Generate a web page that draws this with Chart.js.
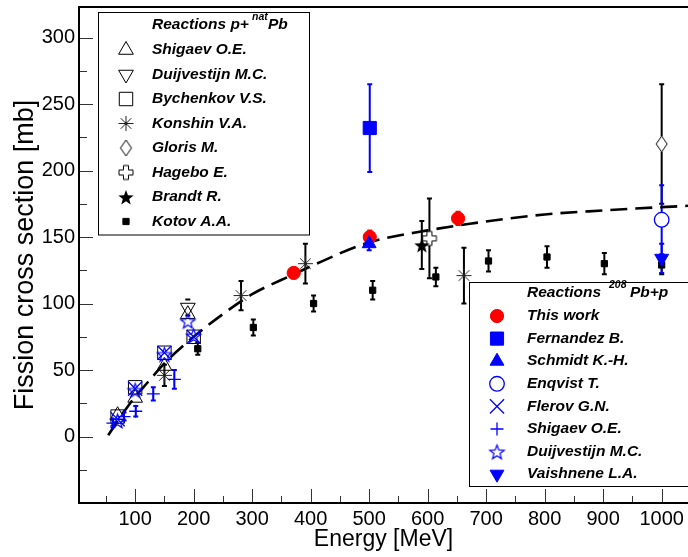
<!DOCTYPE html>
<html>
<head>
<meta charset="utf-8">
<script src="https://cdn.jsdelivr.net/npm/chart.js"></script>
<style>
  html, body { margin: 0; padding: 0; background: #fff; }
  #wrap { width: 688px; height: 557px; }
</style>
</head>
<body>
<div id="wrap"><canvas id="chart" width="688" height="557"></canvas></div>
<script>
// axis ticks
const xTicks = [100, 200, 300, 400, 500, 600, 700, 800, 900, 1000];
const yTicks = [0, 50, 100, 150, 200, 250, 300];

// dashed systematics curve
const curveE = [54, 80, 100, 122, 150, 200, 253, 300, 371, 400, 500, 600, 672, 800, 900, 1000, 1045];
const curveY = [1, 18, 30, 41, 55, 75, 93, 107, 122, 128, 146, 155, 160, 167, 170, 172.5, 173.5];

// reactions p + natPb
const shigaevNatE = [70, 100, 150, 190];
const shigaevNatY = [16, 29, 53, 92];
const duijvNatE = [190];
const duijvNatY = [97];
const duijvNatErr = [6];
const bychenkovE = [70, 100, 150, 200];
const bychenkovY = [15, 37, 63, 75];
const konshinE = [150, 281, 391, 662];
const konshinY = [46, 106, 130, 121];
const konshinErr = [8, 11, 15, 21];
const glorisE = [1000];
const glorisY = [220];
const glorisErr = [45];
const hageboE = [603];
const hageboY = [149];
const hageboErr = [30];
const brandtE = [590];
const brandtY = [144];
const brandtErr = [18];
const kotovE = [207, 302, 405, 506, 614, 704, 804, 902, 1000];
const kotovY = [66, 82, 100, 110, 120, 132, 135, 130, 129];
const kotovErr = [4.5, 6, 6, 7, 7, 8, 8, 8, 7];

// reactions 208Pb + p
const thisWorkE = [371, 501, 652];
const thisWorkY = [123, 150, 164];
const thisWorkErr = [4, 5, 5];
const fernandezE = [501];
const fernandezY = [232];
const fernandezErr = [33];
const schmidtE = [500];
const schmidtY = [145];
const schmidtErr = [5];
const enqvistE = [1000];
const enqvistY = [163];
const enqvistErr = [26];
const flerovE = [70, 100, 150, 200];
const flerovY = [13, 36, 63, 75];
const shigaevE = [62, 81, 101, 131, 167];
const shigaevY = [10, 15, 19, 32, 43];
const shigaevErr = [3, 3, 4, 5, 7];
const duijvE = [70, 100, 150, 190, 200];
const duijvY = [12, 35, 62, 87, 76];
const vaishneneE = [1000];
const vaishneneY = [134];
const vaishneneErr = [11];

const BLACK = '#000', BLUE = '#0000ff', RED = '#ff0000', NONE = 'rgba(0,0,0,0)';
const legendFont = 'bold italic 15.5px "Liberation Sans", Arial, sans-serif';
const supFont = 'bold italic 10.5px "Liberation Sans", Arial, sans-serif';

Chart.defaults.font.family = '"Liberation Sans", Arial, sans-serif';
Chart.defaults.color = '#000';

const pts = (xs, ys) => xs.map((x, i) => ({ x: x, y: ys[i] }));

// marker shapes the library does not have
function shape(kind, w, h, color, filled, lw) {
  const c = document.createElement('canvas');
  c.width = Math.ceil(w + 4);
  c.height = Math.ceil(h + 4);
  const g = c.getContext('2d');
  const cx = c.width / 2, cy = c.height / 2, rx = w / 2, ry = h / 2;
  g.strokeStyle = color;
  g.fillStyle = color;
  g.lineWidth = lw || 1;
  g.beginPath();
  if (kind === 'star') {
    for (let i = 0; i < 10; i++) {
      const a = -Math.PI / 2 + i * Math.PI / 5;
      const k = i % 2 ? 0.42 : 1;
      g.lineTo(cx + Math.cos(a) * rx * k, cy + 1 + Math.sin(a) * ry * k);
    }
    g.closePath();
  } else if (kind === 'diamond') {
    g.moveTo(cx, cy - ry);
    g.lineTo(cx + rx, cy);
    g.lineTo(cx, cy + ry);
    g.lineTo(cx - rx, cy);
    g.closePath();
  } else if (kind === 'plus') {
    const a = rx * 0.36, b = ry * 0.36;
    g.moveTo(cx - a, cy - ry); g.lineTo(cx + a, cy - ry); g.lineTo(cx + a, cy - b);
    g.lineTo(cx + rx, cy - b); g.lineTo(cx + rx, cy + b); g.lineTo(cx + a, cy + b);
    g.lineTo(cx + a, cy + ry); g.lineTo(cx - a, cy + ry); g.lineTo(cx - a, cy + b);
    g.lineTo(cx - rx, cy + b); g.lineTo(cx - rx, cy - b); g.lineTo(cx - a, cy - b);
    g.closePath();
  } else if (kind === 'asterisk') {
    for (let i = 0; i < 4; i++) {
      const a = i * Math.PI / 4;
      g.moveTo(cx - Math.cos(a) * rx, cy - Math.sin(a) * ry);
      g.lineTo(cx + Math.cos(a) * rx, cy + Math.sin(a) * ry);
    }
    g.stroke();
    return c;
  }
  if (filled) g.fill(); else g.stroke();
  return c;
}

function series(key, label, xs, ys, errs, st) {
  return {
    key: key, label: label, data: pts(xs, ys), errors: errs, showLine: false,
    pointStyle: st.style, pointRadius: st.r, pointRotation: st.rot || 0,
    pointBorderColor: st.color, pointBackgroundColor: st.fill ? st.color : NONE,
    pointBorderWidth: st.lw === undefined ? 1 : st.lw,
    errColor: st.color, errGap: st.gap || 0, order: st.order
  };
}

const datasets = [
  {
    key: 'curve', label: 'curve', data: pts(curveE, curveY), showLine: true,
    borderColor: BLACK, borderWidth: 2.6, borderDash: [17, 8], pointRadius: 0,
    cubicInterpolationMode: 'monotone', fill: false, order: 100
  },
  series('shigaevNat', 'Shigaev O.E.', shigaevNatE, shigaevNatY, null, { style: 'triangle', r: 8.5, color: BLACK, order: 60 }),
  series('duijvNat', 'Duijvestijn M.C.', duijvNatE, duijvNatY, duijvNatErr, { style: 'triangle', rot: 180, r: 8.5, color: BLACK, gap: 7, order: 60 }),
  series('bychenkov', 'Bychenkov V.S.', bychenkovE, bychenkovY, null, { style: 'rect', r: 9.5, color: BLACK, order: 60 }),
  series('konshin', 'Konshin V.A.', konshinE, konshinY, konshinErr, { style: shape('asterisk', 15, 15, '#222', false, 1), r: 7, color: BLACK, order: 60 }),
  series('gloris', 'Gloris M.', glorisE, glorisY, glorisErr, { style: shape('diamond', 11, 16, BLACK, false, 1), r: 8, color: BLACK, gap: 8, order: 60 }),
  series('hagebo', 'Hagebo E.', hageboE, hageboY, hageboErr, { style: shape('plus', 14, 14, BLACK, false, 1), r: 7, color: BLACK, gap: 7, order: 60 }),
  series('brandt', 'Brandt R.', brandtE, brandtY, brandtErr, { style: shape('star', 16, 16, BLACK, true), r: 8, color: BLACK, order: 60 }),
  series('kotov', 'Kotov A.A.', kotovE, kotovY, kotovErr, { style: 'rect', r: 4.4, color: BLACK, fill: true, order: 60 }),
  series('thisWork', 'This work', thisWorkE, thisWorkY, thisWorkErr, { style: 'circle', r: 6.6, color: RED, fill: true, order: 20 }),
  series('fernandez', 'Fernandez B.', fernandezE, fernandezY, fernandezErr, { style: 'rect', r: 9.3, color: BLUE, fill: true, order: 10 }),
  series('schmidt', 'Schmidt K.-H.', schmidtE, schmidtY, schmidtErr, { style: 'triangle', r: 8, color: BLUE, fill: true, order: 10 }),
  series('enqvist', 'Enqvist T.', enqvistE, enqvistY, enqvistErr, { style: 'circle', r: 7.3, color: BLUE, lw: 1.3, gap: 7.3, order: 10 }),
  series('flerov', 'Flerov G.N.', flerovE, flerovY, null, { style: 'crossRot', r: 10, color: BLUE, lw: 1.3, order: 10 }),
  series('shigaev', 'Shigaev O.E.', shigaevE, shigaevY, shigaevErr, { style: 'cross', r: 6.5, color: BLUE, lw: 1.3, order: 10 }),
  series('duijv', 'Duijvestijn M.C.', duijvE, duijvY, null, { style: shape('star', 15, 15, BLUE, false, 1.2), r: 7.5, color: BLUE, order: 10 }),
  series('vaishnene', 'Vaishnene L.A.', vaishneneE, vaishneneY, vaishneneErr, { style: 'triangle', rot: 180, r: 8, color: BLUE, fill: true, order: 10 })
];

const legends = [
  {
    box: [98.5, 12.5, 211, 222.5], markX: 126, textX: 152, rowY: 50, step: 24.5, headY: 25,
    head: [['Reactions p+', 152, 0], ['nat', 252, -8], ['Pb', 268, 0]],
    keys: ['shigaevNat', 'duijvNat', 'bychenkov', 'konshin', 'gloris', 'hagebo', 'brandt', 'kotov']
  },
  {
    box: [469.5, 282.5, 230, 204], markX: 497, textX: 527, rowY: 316, step: 22.6, headY: 293,
    head: [['Reactions', 527, 0], ['208', 609, -8], ['Pb+p', 630, 0]],
    keys: ['thisWork', 'fernandez', 'schmidt', 'enqvist', 'flerov', 'shigaev', 'duijv', 'vaishnene']
  }
];

const errorBars = {
  id: 'errorBars',
  beforeDatasetsDraw(chart) {
    const { ctx, scales: { x, y } } = chart;
    chart.data.datasets.forEach((ds) => {
      if (!ds.errors) return;
      ctx.save();
      ctx.strokeStyle = ds.errColor;
      ctx.lineWidth = 2;
      ds.data.forEach((p, i) => {
        const e = ds.errors[i];
        if (!e) return;
        const px = x.getPixelForValue(p.x);
        const top = y.getPixelForValue(p.y + e);
        const mid = y.getPixelForValue(p.y);
        const bot = y.getPixelForValue(p.y - e);
        ctx.beginPath();
        ctx.moveTo(px, top); ctx.lineTo(px, mid - ds.errGap);
        ctx.moveTo(px, mid + ds.errGap); ctx.lineTo(px, bot);
        ctx.moveTo(px - 2.5, top); ctx.lineTo(px + 2.5, top);
        ctx.moveTo(px - 2.5, bot); ctx.lineTo(px + 2.5, bot);
        ctx.stroke();
      });
      ctx.restore();
    });
  }
};

const frame = {
  id: 'frame',
  beforeDatasetsDraw(chart) {
    const { ctx, chartArea: a, scales: { x, y } } = chart;
    ctx.save();
    ctx.strokeStyle = '#333';
    ctx.lineWidth = 1;
    ctx.beginPath();
    for (let v = 50; v < x.max; v += 50) {
      const px = Math.round(x.getPixelForValue(v)) + 0.5;
      ctx.moveTo(px, a.bottom);
      ctx.lineTo(px, a.bottom - (v % 100 === 0 ? 14 : 7));
    }
    for (let v = -25; v < y.max; v += 25) {
      const py = Math.round(y.getPixelForValue(v)) + 0.5;
      ctx.moveTo(a.left, py);
      ctx.lineTo(a.left + (v % 50 === 0 ? 14 : 8), py);
    }
    ctx.stroke();
    ctx.strokeStyle = '#000';
    ctx.lineWidth = 2;
    ctx.beginPath();
    ctx.moveTo(a.right + 2, a.top);
    ctx.lineTo(a.left, a.top);
    ctx.lineTo(a.left, a.bottom);
    ctx.lineTo(a.right + 2, a.bottom);
    ctx.stroke();
    ctx.restore();
  }
};

const legendBoxes = {
  id: 'legendBoxes',
  afterDatasetsDraw(chart) {
    const ctx = chart.ctx;
    const byKey = {};
    chart.data.datasets.forEach((ds) => { byKey[ds.key] = ds; });
    legends.forEach((lg) => {
      ctx.save();
      const [bx, by, bw, bh] = lg.box;
      ctx.fillStyle = '#fff';
      ctx.fillRect(bx, by, bw, bh);
      ctx.strokeStyle = '#000';
      ctx.lineWidth = 1;
      ctx.strokeRect(bx, by, bw, bh);
      ctx.fillStyle = '#000';
      ctx.textBaseline = 'middle';
      ctx.textAlign = 'left';
      lg.head.forEach(([t, hx, dy]) => {
        ctx.font = dy ? supFont : legendFont;
        ctx.fillText(t, hx, lg.headY + dy);
      });
      lg.keys.forEach((k, i) => {
        const ds = byKey[k];
        const yy = lg.rowY + i * lg.step;
        ctx.save();
        ctx.strokeStyle = ds.pointBorderColor;
        ctx.fillStyle = ds.pointBackgroundColor;
        ctx.lineWidth = ds.pointBorderWidth;
        Chart.helpers.drawPoint(ctx, {
          pointStyle: ds.pointStyle, rotation: ds.pointRotation,
          radius: ds.pointRadius, borderWidth: ds.pointBorderWidth
        }, lg.markX, yy);
        ctx.restore();
        ctx.fillStyle = '#000';
        ctx.font = legendFont;
        ctx.fillText(ds.label, lg.textX, yy);
      });
      ctx.restore();
    });
  }
};

new Chart(document.getElementById('chart').getContext('2d'), {
  type: 'scatter',
  data: { datasets: datasets },
  plugins: [frame, errorBars, legendBoxes],
  options: {
    responsive: false,
    animation: false,
    events: [],
    layout: { autoPadding: false, padding: { top: 7, right: 0, left: 0, bottom: 0 } },
    plugins: { legend: { display: false }, tooltip: { enabled: false } },
    scales: {
      x: {
        type: 'linear', min: 4, max: 1045,
        afterBuildTicks: (s) => { s.ticks = xTicks.map((v) => ({ value: v })); },
        afterFit: (s) => { s.height = 54; s.paddingLeft = 0; s.paddingRight = 0; },
        grid: { display: false, drawTicks: false },
        border: { display: false },
        ticks: { font: { size: 20 }, color: '#000', padding: 4, maxRotation: 0, autoSkip: false, callback: (v) => String(v) },
        title: { display: true, text: 'Energy [MeV]', font: { size: 23 }, color: '#000', padding: { top: 0, bottom: 4 } }
      },
      y: {
        type: 'linear', min: -50, max: 323,
        afterBuildTicks: (s) => { s.ticks = yTicks.map((v) => ({ value: v })); },
        afterFit: (s) => { s.width = 79; s.paddingTop = 0; s.paddingBottom = 0; },
        grid: { display: false, drawTicks: false },
        border: { display: false },
        ticks: { font: { size: 20 }, color: '#000', padding: 4, autoSkip: false, callback: (v) => String(v) },
        title: { display: true, text: 'Fission cross section [mb]', font: { size: 27 }, color: '#000', padding: { top: 9, bottom: 0 } }
      }
    }
  }
});
</script>
</body>
</html>
